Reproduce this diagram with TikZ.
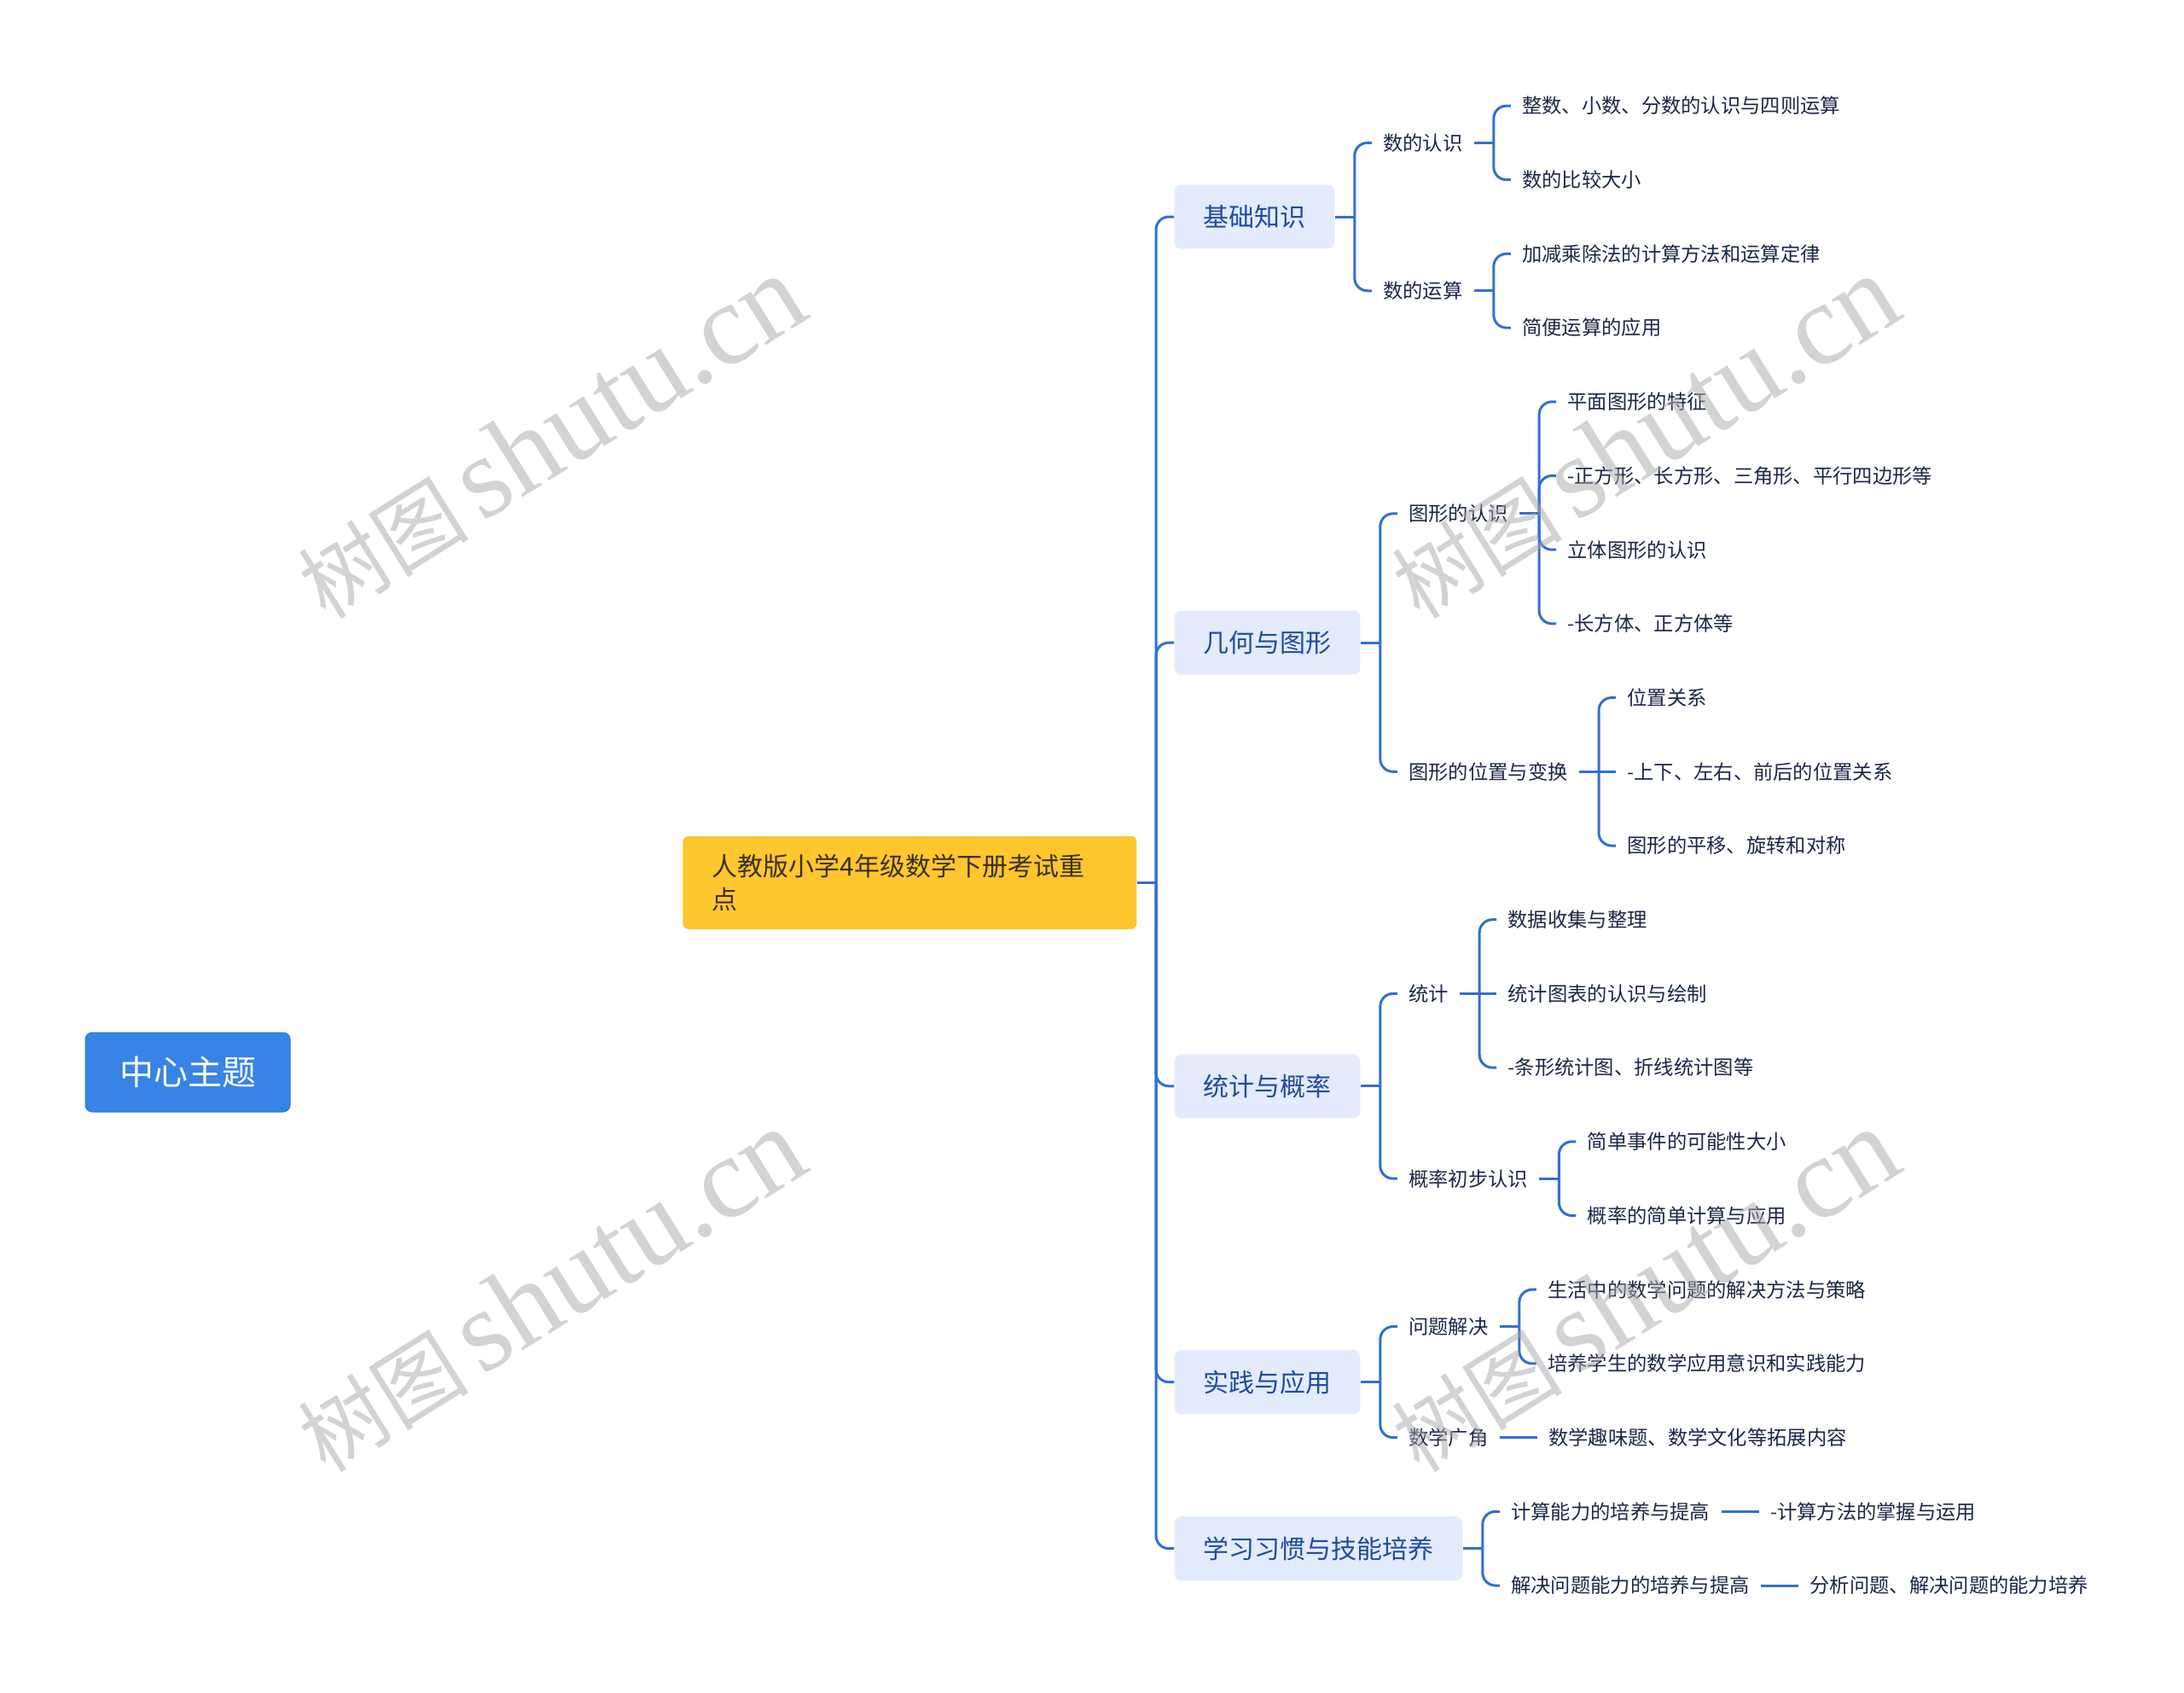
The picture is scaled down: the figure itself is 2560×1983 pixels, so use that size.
\documentclass[tikz,border=0pt]{standalone}
\usepackage{fontspec}
\setmainfont{Noto Sans CJK SC}
\newfontfamily\wmlat{Liberation Serif}
\usetikzlibrary{calc}
\definecolor{cblue}{HTML}{3784E6}
\definecolor{lineblue}{HTML}{2F70D2}
\definecolor{lonefill}{HTML}{E3EBFC}
\definecolor{lonetext}{HTML}{1E4C9E}
\definecolor{leaftext}{HTML}{1B2748}
\definecolor{rootfill}{HTML}{FFC62E}
\definecolor{roottext}{HTML}{3A3020}
\definecolor{wmgray}{HTML}{A8A8A8}
\begin{document}
\begin{tikzpicture}[x=0.5pt,y=-0.5pt,
  centerbox/.style={fill=cblue, draw=cblue!90!black, line width=0.5pt, rounded corners=4pt, text=white, font=\fontsize{20}{24}\selectfont, minimum width=120pt, minimum height=46.5pt, inner sep=0pt},
  rootbox/.style={fill=rootfill, rounded corners=3.5pt, text=roottext, font=\fontsize{15}{19.5}\selectfont, text width=232pt, align=left, inner xsep=17pt, inner ysep=0pt, minimum height=54.5pt, anchor=west},
  lonebox/.style={fill=lonefill, rounded corners=4pt, text=lonetext, font=\fontsize{15}{18}\selectfont, inner xsep=17pt, inner ysep=0pt, minimum height=37.5pt, anchor=west},
  leaf/.style={text=leaftext, font=\fontsize{11.65}{14}\selectfont, inner xsep=6.5pt, inner ysep=3pt, anchor=west},
  conn/.style={draw=lineblue, line width=1.5pt, rounded corners=7.5pt},
  wm/.style={text=wmgray, text opacity=0.5, rotate=32, inner sep=0pt},
]
\useasboundingbox (0,0) rectangle (2560,1983);

% center topic
\node[centerbox] (center) at (220,1256.5) {中心主题};

% root
\node[rootbox] (root) at (800,1034.35) {人教版小学4年级数学下册考试重\\点};
\coordinate (trunk) at (1355,1034.35);
\draw[conn] (root.east) -- (trunk);

% level 1
\node[lonebox] (A) at (1376,254.05) {基础知识};
\node[lonebox] (B) at (1376,753.075) {几何与图形};
\node[lonebox] (C) at (1376,1272.775) {统计与概率};
\node[lonebox] (D) at (1376,1619.575) {实践与应用};
\node[lonebox] (E) at (1376,1814.65) {学习习惯与技能培养};
\foreach \n in {A,B,C,D,E} \draw[conn] (trunk) |- (\n.west);

% ---------- A ----------
\coordinate (AJ) at ([xshift=11.5pt]A.east);
\coordinate (AX) at ([xshift=10pt]AJ);
\node[leaf] (A1) at (AX |- 0,167.35) {数的认识};
\node[leaf] (A2) at (AX |- 0,340.75) {数的运算};
\draw[conn] (A.east) -- (AJ);
\foreach \n in {A1,A2} \draw[conn] (AJ) |- (\n.west);

\coordinate (A1J) at ([xshift=11.5pt]A1.east);
\coordinate (A1X) at ([xshift=10pt]A1J);
\node[leaf] (A11) at (A1X |- 0,124) {整数、小数、分数的认识与四则运算};
\node[leaf] (A12) at (A1X |- 0,210.7) {数的比较大小};
\draw[conn] (A1.east) -- (A1J);
\foreach \n in {A11,A12} \draw[conn] (A1J) |- (\n.west);

\coordinate (A2J) at ([xshift=11.5pt]A2.east);
\coordinate (A2X) at ([xshift=10pt]A2J);
\node[leaf] (A21) at (A2X |- 0,297.4) {加减乘除法的计算方法和运算定律};
\node[leaf] (A22) at (A2X |- 0,384.1) {简便运算的应用};
\draw[conn] (A2.east) -- (A2J);
\foreach \n in {A21,A22} \draw[conn] (A2J) |- (\n.west);

% ---------- B ----------
\coordinate (BJ) at ([xshift=11.5pt]B.east);
\coordinate (BX) at ([xshift=10pt]BJ);
\node[leaf] (B1) at (BX |- 0,601.85) {图形的认识};
\node[leaf] (B2) at (BX |- 0,904.3) {图形的位置与变换};
\draw[conn] (B.east) -- (BJ);
\foreach \n in {B1,B2} \draw[conn] (BJ) |- (\n.west);

\coordinate (B1J) at ([xshift=11.5pt]B1.east);
\coordinate (B1X) at ([xshift=10pt]B1J);
\node[leaf] (B11) at (B1X |- 0,470.8) {平面图形的特征};
\node[leaf] (B12) at (B1X |- 0,557.5) {-正方形、长方形、三角形、平行四边形等};
\node[leaf] (B13) at (B1X |- 0,644.2) {立体图形的认识};
\node[leaf] (B14) at (B1X |- 0,730.9) {-长方体、正方体等};
\draw[conn] (B1.east) -- (B1J);
\foreach \n in {B11,B12,B13,B14} \draw[conn] (B1J) |- (\n.west);

\coordinate (B2J) at ([xshift=11.5pt]B2.east);
\coordinate (B2X) at ([xshift=10pt]B2J);
\node[leaf] (B21) at (B2X |- 0,817.6) {位置关系};
\node[leaf] (B22) at (B2X |- 0,904.3) {-上下、左右、前后的位置关系};
\node[leaf] (B23) at (B2X |- 0,991.0) {图形的平移、旋转和对称};
\draw[conn] (B2.east) -- (B22.west);
\foreach \n in {B21,B23} \draw[conn] (B2J) |- (\n.west);

% ---------- C ----------
\coordinate (CJ) at ([xshift=11.5pt]C.east);
\coordinate (CX) at ([xshift=10pt]CJ);
\node[leaf] (C1) at (CX |- 0,1164.4) {统计};
\node[leaf] (C2) at (CX |- 0,1381.15) {概率初步认识};
\draw[conn] (C.east) -- (CJ);
\foreach \n in {C1,C2} \draw[conn] (CJ) |- (\n.west);

\coordinate (C1J) at ([xshift=11.5pt]C1.east);
\coordinate (C1X) at ([xshift=10pt]C1J);
\node[leaf] (C11) at (C1X |- 0,1077.7) {数据收集与整理};
\node[leaf] (C12) at (C1X |- 0,1164.4) {统计图表的认识与绘制};
\node[leaf] (C13) at (C1X |- 0,1251.1) {-条形统计图、折线统计图等};
\draw[conn] (C1.east) -- (C12.west);
\foreach \n in {C11,C13} \draw[conn] (C1J) |- (\n.west);

\coordinate (C2J) at ([xshift=11.5pt]C2.east);
\coordinate (C2X) at ([xshift=10pt]C2J);
\node[leaf] (C21) at (C2X |- 0,1337.8) {简单事件的可能性大小};
\node[leaf] (C22) at (C2X |- 0,1424.5) {概率的简单计算与应用};
\draw[conn] (C2.east) -- (C2J);
\foreach \n in {C21,C22} \draw[conn] (C2J) |- (\n.west);

% ---------- D ----------
\coordinate (DJ) at ([xshift=11.5pt]D.east);
\coordinate (DX) at ([xshift=10pt]DJ);
\node[leaf] (D1) at (DX |- 0,1554.55) {问题解决};
\node[leaf] (D2) at (DX |- 0,1684.6) {数学广角};
\draw[conn] (D.east) -- (DJ);
\foreach \n in {D1,D2} \draw[conn] (DJ) |- (\n.west);

\coordinate (D1J) at ([xshift=11.5pt]D1.east);
\coordinate (D1X) at ([xshift=10pt]D1J);
\node[leaf] (D11) at (D1X |- 0,1511.2) {生活中的数学问题的解决方法与策略};
\node[leaf] (D12) at (D1X |- 0,1597.9) {培养学生的数学应用意识和实践能力};
\draw[conn] (D1.east) -- (D1J);
\foreach \n in {D11,D12} \draw[conn] (D1J) |- (\n.west);

\node[leaf] (D21) at ([xshift=22pt]D2.east) {数学趣味题、数学文化等拓展内容};
\draw[conn] (D2.east) -- (D21.west);

% ---------- E ----------
\coordinate (EJ) at ([xshift=11.5pt]E.east);
\coordinate (EX) at ([xshift=10pt]EJ);
\node[leaf] (E1) at (EX |- 0,1771.3) {计算能力的培养与提高};
\node[leaf] (E2) at (EX |- 0,1858.0) {解决问题能力的培养与提高};
\draw[conn] (E.east) -- (EJ);
\foreach \n in {E1,E2} \draw[conn] (EJ) |- (\n.west);

\node[leaf] (E11) at ([xshift=22pt]E1.east) {-计算方法的掌握与运用};
\draw[conn] (E1.east) -- (E11.west);
\node[leaf] (E21) at ([xshift=22pt]E2.east) {分析问题、解决问题的能力培养};
\draw[conn] (E2.east) -- (E21.west);

% ---------- watermarks ----------
\node[wm] (wm1) at (645,512) {\fontsize{50}{50}\selectfont 树图\,{\wmlat\fontsize{68}{68}\selectfont shutu.cn}};
\node[wm] (wm2) at (1927,512) {\fontsize{50}{50}\selectfont 树图\,{\wmlat\fontsize{68}{68}\selectfont shutu.cn}};
\node[wm] (wm3) at (645,1512) {\fontsize{50}{50}\selectfont 树图\,{\wmlat\fontsize{68}{68}\selectfont shutu.cn}};
\node[wm] (wm4) at (1927,1512) {\fontsize{50}{50}\selectfont 树图\,{\wmlat\fontsize{68}{68}\selectfont shutu.cn}};
\end{tikzpicture}
\end{document}
